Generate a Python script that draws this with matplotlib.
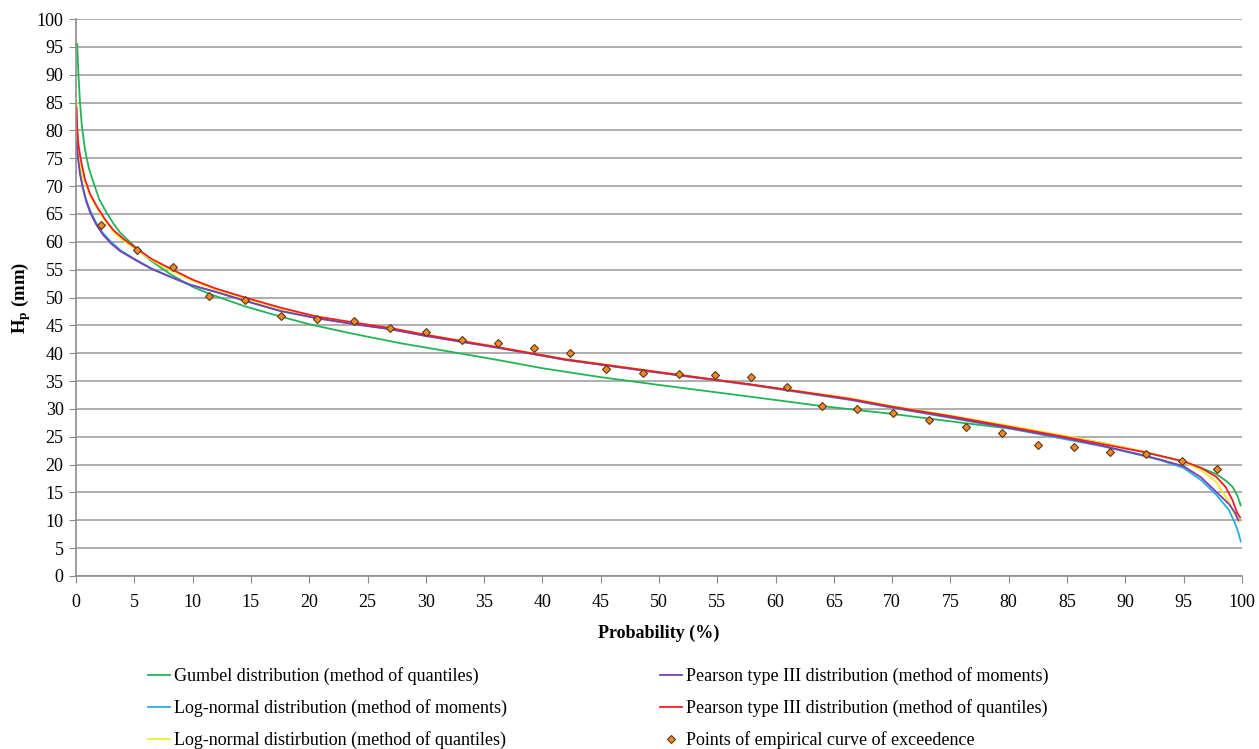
import numpy as np
import matplotlib
matplotlib.use("Agg")
import matplotlib.pyplot as plt

plt.rcParams["font.family"] = ["Liberation Serif", "DejaVu Serif"]
plt.rcParams["mathtext.fontset"] = "custom"
plt.rcParams["mathtext.rm"] = "Liberation Serif"
plt.rcParams["mathtext.bf"] = "Liberation Serif:bold"

# Gumbel (method of quantiles)
p_gumbel = [0.1, 0.2, 0.34, 0.5, 0.77, 1.1, 1.5, 2.0, 2.6, 3.2, 3.8, 4.5, 5.2, 6.5, 8, 10, 11.5, 14.5,
            17.5, 20, 23.5, 27.8, 32, 36.4, 40, 45, 50, 57.8, 64, 70, 76, 80, 85, 88, 91.5, 95,
            96.5, 97.8, 98.7, 99.2, 99.6, 99.9]
h_gumbel = [95.5, 90.3, 85.0, 80.8, 76.5, 73.2, 70.6, 67.6, 65.3, 63.3, 61.6, 60.2, 58.8, 56.5, 54.3, 51.9, 50.6, 48.4,
            46.6, 45.2, 43.6, 41.8, 40.3, 38.7, 37.3, 35.7, 34.3, 32.2, 30.5, 29.1, 27.5, 26.5, 25.0, 23.9, 22.3, 20.5,
            19.4, 18.3, 17.0, 16.0, 14.5, 12.7]

# Log-normal (method of moments)
p_lnmom = [0.05, 0.1, 0.2, 0.35, 0.57, 0.85, 1.2, 1.7, 2.3, 3.0, 3.8, 5.2, 6.5, 8.1, 9.8, 12, 14.5,
           17.5, 20.6, 23.9, 27, 30, 36.4, 42, 50, 57.8, 66.4, 70, 75, 80, 85, 88, 91.5, 93, 95,
           96.5, 97.8, 98.9, 99.4, 99.7, 99.9]
h_lnmom = [78.3, 77.0, 75.0, 72.5, 69.9, 67.7, 65.7, 63.5, 61.6, 60.0, 58.5, 56.7, 55.2, 53.7, 52.2, 51.0, 49.4,
           47.6, 46.3, 45.2, 44.3, 43.1, 40.9, 38.8, 36.5, 34.3, 31.6, 30.2, 28.4, 26.5, 24.5, 23.3, 21.6, 20.8, 19.4,
           17.2, 14.6, 11.8, 9.5, 7.8, 6.2]

# Log-normal (method of quantiles)
p_lnq = [0.05, 0.1, 0.18, 0.28, 0.45, 0.65, 0.9, 1.3, 1.9, 2.6, 3.3, 4.2, 5.2, 6.5, 8, 10, 12, 14.5,
         17.5, 20.6, 23.9, 27, 30, 36.4, 42, 50, 57.8, 66.4, 70, 75, 80, 85, 88, 91.5, 95,
         96.5, 97.8, 98.8, 99.4, 99.8]
h_lnq = [85.2, 80.6, 77.8, 75.2, 72.8, 71.2, 69.9, 67.9, 65.7, 63.5, 61.6, 60.0, 58.6, 56.7, 55.0, 53.0, 51.4, 49.8,
         48.0, 46.5, 45.4, 44.5, 43.3, 41.0, 38.9, 36.6, 34.4, 31.9, 30.5, 28.8, 27.0, 25.1, 23.9, 22.4, 20.5,
         19.0, 16.9, 13.6, 11.0, 9.7]

# Pearson type III (method of moments)
p_p3mom = [0.05, 0.1, 0.2, 0.35, 0.6, 0.85, 1.2, 1.7, 2.3, 3.0, 3.8, 5.2, 6.5, 8.1, 9.8, 12, 14.5,
           17.5, 20.6, 23.9, 27, 30, 36.4, 42, 50, 57.8, 66.4, 70, 75, 80, 85, 88, 91.5, 93, 95,
           96.5, 97.8, 98.9, 99.4, 99.7]
h_p3mom = [78.0, 76.5, 74.5, 72.0, 69.5, 67.4, 65.3, 63.2, 61.3, 59.7, 58.3, 56.6, 55.1, 53.7, 52.3, 51.0, 49.4,
           47.6, 46.3, 45.2, 44.3, 43.1, 40.9, 38.8, 36.5, 34.4, 31.7, 30.3, 28.5, 26.6, 24.7, 23.4, 21.7, 20.9, 19.7,
           17.7, 15.1, 12.9, 11.4, 10.0]

# Pearson type III (method of quantiles)
p_p3q = [0.05, 0.1, 0.2, 0.34, 0.5, 0.77, 1.2, 1.8, 2.5, 3.2, 4.2, 5.2, 6.5, 8, 10, 12, 14.5,
         17.5, 20.6, 23.9, 27, 30, 36.4, 42, 50, 57.8, 66.4, 70, 75, 80, 85, 88, 91.5, 95,
         96.5, 97.8, 98.6, 99.2, 99.6, 99.85]
h_p3q = [84.0, 80.5, 77.6, 75.6, 73.8, 71.2, 68.6, 66.3, 64.0, 62.1, 60.3, 58.8, 56.9, 55.3, 53.2, 51.6, 50.0,
         48.2, 46.6, 45.5, 44.5, 43.3, 41.0, 38.9, 36.6, 34.4, 31.8, 30.4, 28.7, 26.8, 24.9, 23.7, 22.3, 20.6,
         19.4, 17.8, 16.0, 13.6, 11.3, 10.5]

# empirical points
p_emp = [2.1, 5.2, 8.3, 11.4, 14.5, 17.6, 20.7, 23.8, 26.9, 30.0, 33.1, 36.2, 39.3, 42.4, 45.5, 48.6,
         51.7, 54.8, 57.9, 61.0, 64.0, 67.0, 70.1, 73.2, 76.3, 79.4, 82.5, 85.6, 88.7, 91.8, 94.9, 97.9]
h_emp = [63.0, 58.5, 55.5, 50.3, 49.5, 46.7, 46.2, 45.7, 44.6, 43.8, 42.4, 41.8, 40.9, 40.1, 37.1, 36.5,
         36.3, 36.0, 35.7, 34.0, 30.5, 29.9, 29.2, 28.0, 26.8, 25.6, 23.5, 23.2, 22.2, 21.9, 20.6, 19.2]

fig = plt.figure(figsize=(12.59, 7.49), dpi=100)
ax = fig.add_axes([0.0604, 0.231, 0.926, 0.7436])

lw = 1.3
l1, = ax.plot(p_gumbel, h_gumbel, color="#22b455", lw=lw, label="Gumbel distribution (method of quantiles)")
l2, = ax.plot(p_lnmom, h_lnmom, color="#29abe8", lw=lw, label="Log-normal distribution (method of moments)")
l3, = ax.plot(p_lnq, h_lnq, color="#f5ec2a", lw=lw, label="Log-normal distirbution (method of quantiles)")
l4, = ax.plot(p_p3mom, h_p3mom, color="#7a3fb0", lw=lw, label="Pearson type III distribution (method of moments)")
l5, = ax.plot(p_p3q, h_p3q, color="#f21d24", lw=lw, label="Pearson type III distribution (method of quantiles)")
l6, = ax.plot(p_emp, h_emp, ls="none", marker="D", ms=4.5, mfc="#f0892a", mec="#5a3517", mew=0.8,
              label="Points of empirical curve of exceedence")

ax.set_xlim(0, 100)
ax.set_ylim(0, 100)
ax.set_xticks(np.arange(0, 101, 5))
ax.set_yticks(np.arange(0, 101, 5))
ax.yaxis.grid(True, color="#a0a0a0", lw=1.2)
ax.set_axisbelow(True)
for s in ["top", "right"]:
    ax.spines[s].set_visible(False)
for s in ["left", "bottom"]:
    ax.spines[s].set_color("#8c8c8c")
    ax.spines[s].set_linewidth(1.2)
ax.tick_params(axis="both", direction="out", length=5, color="#8c8c8c", labelsize=13, pad=4)
ax.tick_params(axis="x", pad=8)

ax.set_xlabel("Probability (%)", fontsize=13, fontweight="bold", labelpad=10)
ax.set_ylabel(r"$\mathbf{H_p}$ (mm)", fontsize=13.5, fontweight="bold", labelpad=3)

fig.legend(handles=[l1, l2, l3, l4, l5, l6], loc="upper left", bbox_to_anchor=(0.112, 0.119),
           ncol=2, frameon=False, fontsize=13, handlelength=1.2, handletextpad=0.25,
           columnspacing=8.45, labelspacing=0.78, borderaxespad=0)

fig.savefig("out.png", dpi=100)
